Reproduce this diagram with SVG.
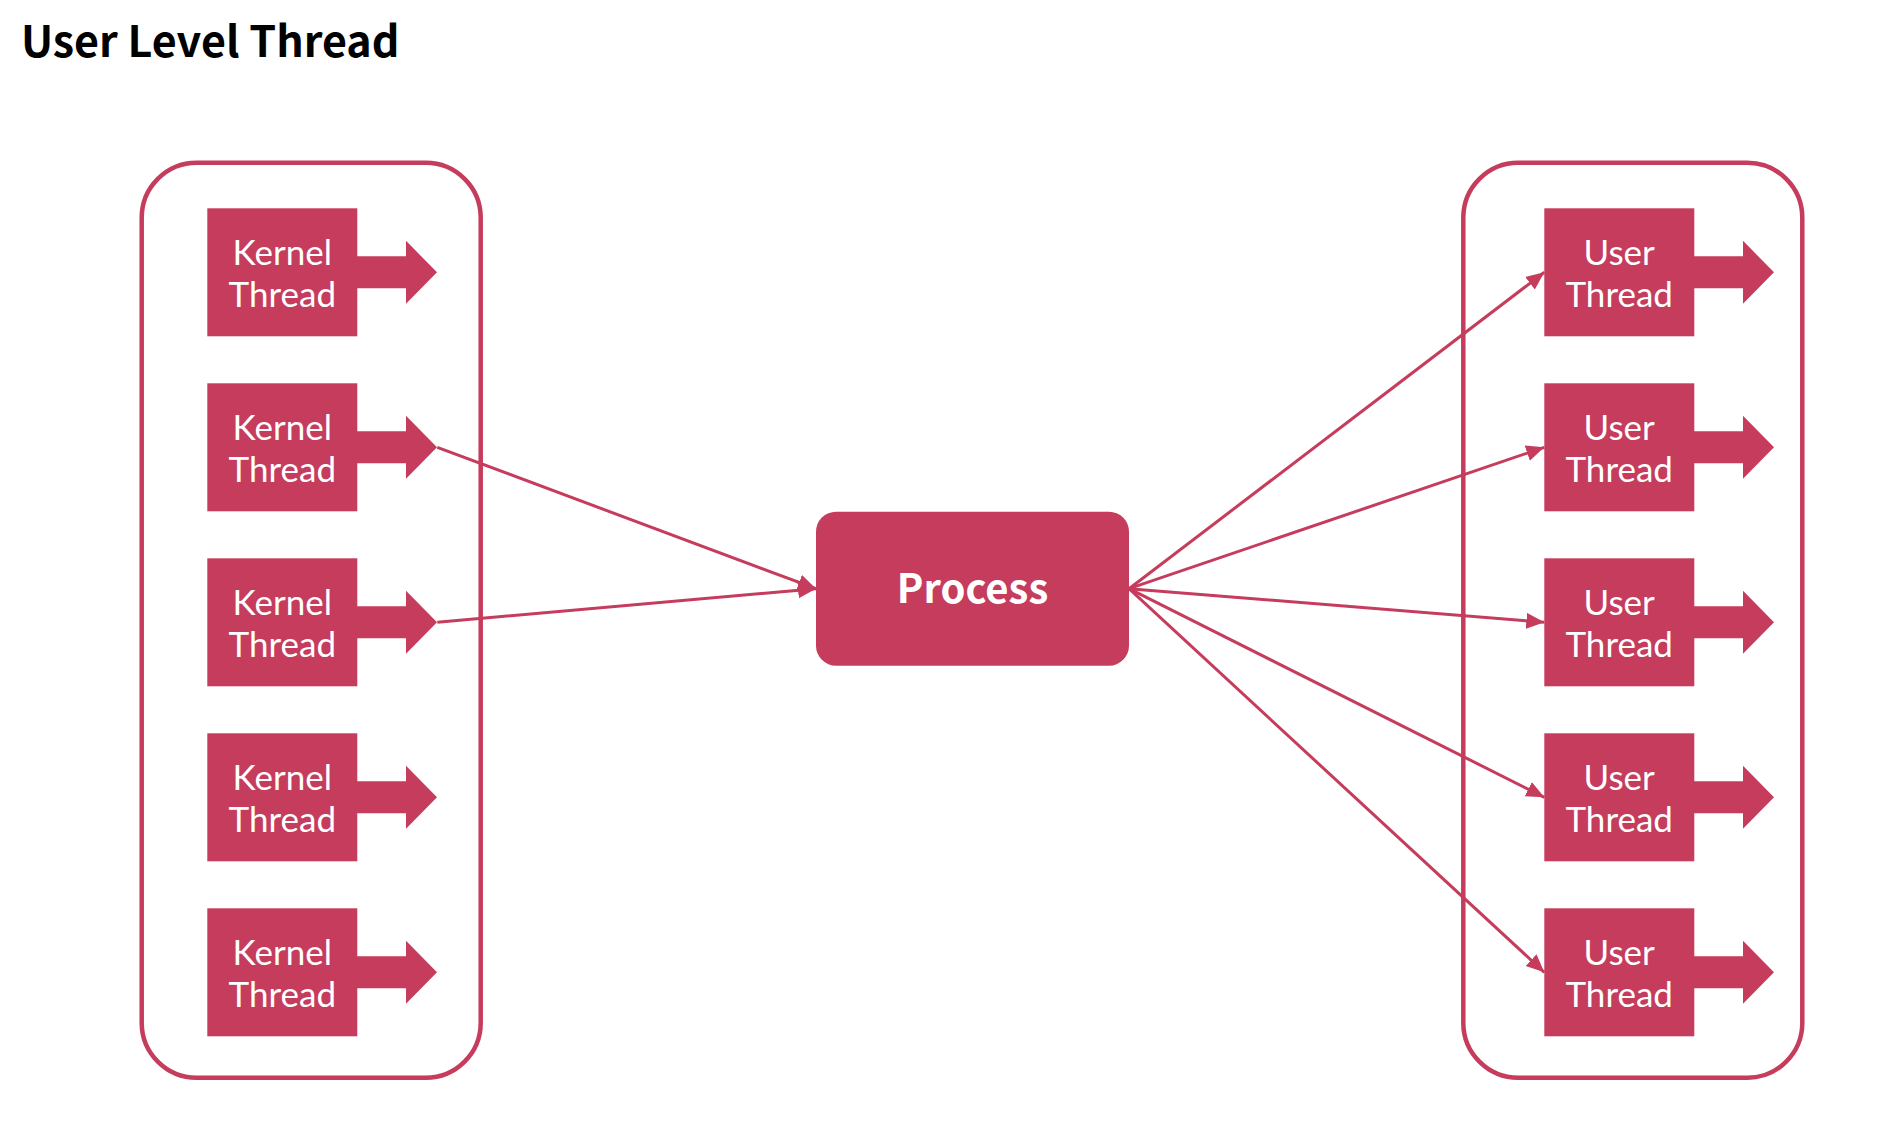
<svg xmlns="http://www.w3.org/2000/svg" width="1884" height="1144" viewBox="0 0 1884 1144">
  <style>
    .container { fill: none; stroke: #C53C5C; stroke-width: 4.5; }
    .box { fill: #C53C5C; }
    .label { fill: #FFFFFF; font-family: Lato, "Liberation Sans", sans-serif; font-size: 35px; text-anchor: middle; }
    .proc { fill: #FFFFFF; font-family: "Noto Sans CJK SC", Lato, "Liberation Sans", sans-serif; font-weight: bold; font-size: 40px; text-anchor: middle; }
    .title { fill: #000000; font-family: "Noto Sans CJK SC", Lato, "Liberation Sans", sans-serif; font-weight: bold; font-size: 43px; }
    .conn { fill: none; stroke: #C53C5C; stroke-width: 3; }
  </style>
  <defs>
    <marker id="ah" markerUnits="userSpaceOnUse" markerWidth="20" markerHeight="18" refX="18" refY="8" orient="auto">
      <path d="M0,0 L18,8 L0,16 z" fill="#C53C5C"/>
    </marker>
    <path id="bigarrowL" d="M0,-16 L49,-16 L49,-31.5 L80,0 L49,31.5 L49,16 L0,16 z" fill="#C53C5C"/>
  </defs>
  <rect width="1884" height="1144" fill="#FFFFFF"/>

  <text class="title" x="21" y="57">User Level Thread</text>

  <g id="kernel-container"><rect class="container" x="141.7" y="162.7" width="339" height="915" rx="55" ry="55"/></g>
  <g id="user-container"><rect class="container" x="1463.3" y="162.7" width="339" height="915" rx="55" ry="55"/></g>

  <g id="kernel1">
    <rect class="box" x="207.3" y="208.3" width="150" height="128"/>
    <use href="#bigarrowL" x="357" y="272.3"/>
    <text class="label" x="282.3" y="265">Kernel</text>
    <text class="label" x="282.3" y="306.5">Thread</text>
  </g>
  <g id="kernel2">
    <rect class="box" x="207.3" y="383.3" width="150" height="128"/>
    <use href="#bigarrowL" x="357" y="447.3"/>
    <text class="label" x="282.3" y="440">Kernel</text>
    <text class="label" x="282.3" y="481.5">Thread</text>
  </g>
  <g id="kernel3">
    <rect class="box" x="207.3" y="558.3" width="150" height="128"/>
    <use href="#bigarrowL" x="357" y="622.3"/>
    <text class="label" x="282.3" y="615">Kernel</text>
    <text class="label" x="282.3" y="656.5">Thread</text>
  </g>
  <g id="kernel4">
    <rect class="box" x="207.3" y="733.3" width="150" height="128"/>
    <use href="#bigarrowL" x="357" y="797.3"/>
    <text class="label" x="282.3" y="790">Kernel</text>
    <text class="label" x="282.3" y="831.5">Thread</text>
  </g>
  <g id="kernel5">
    <rect class="box" x="207.3" y="908.3" width="150" height="128"/>
    <use href="#bigarrowL" x="357" y="972.3"/>
    <text class="label" x="282.3" y="965">Kernel</text>
    <text class="label" x="282.3" y="1006.5">Thread</text>
  </g>

  <g id="process">
    <rect class="box" x="816" y="511.7" width="313" height="154" rx="20" ry="20"/>
    <text class="proc" x="972.5" y="603">Process</text>
  </g>

  <g id="user1">
    <rect class="box" x="1544.3" y="208.3" width="150" height="128"/>
    <use href="#bigarrowL" x="1694" y="272.3"/>
    <text class="label" x="1619.2" y="265">User</text>
    <text class="label" x="1619.2" y="306.5">Thread</text>
  </g>
  <g id="user2">
    <rect class="box" x="1544.3" y="383.3" width="150" height="128"/>
    <use href="#bigarrowL" x="1694" y="447.3"/>
    <text class="label" x="1619.2" y="440">User</text>
    <text class="label" x="1619.2" y="481.5">Thread</text>
  </g>
  <g id="user3">
    <rect class="box" x="1544.3" y="558.3" width="150" height="128"/>
    <use href="#bigarrowL" x="1694" y="622.3"/>
    <text class="label" x="1619.2" y="615">User</text>
    <text class="label" x="1619.2" y="656.5">Thread</text>
  </g>
  <g id="user4">
    <rect class="box" x="1544.3" y="733.3" width="150" height="128"/>
    <use href="#bigarrowL" x="1694" y="797.3"/>
    <text class="label" x="1619.2" y="790">User</text>
    <text class="label" x="1619.2" y="831.5">Thread</text>
  </g>
  <g id="user5">
    <rect class="box" x="1544.3" y="908.3" width="150" height="128"/>
    <use href="#bigarrowL" x="1694" y="972.3"/>
    <text class="label" x="1619.2" y="965">User</text>
    <text class="label" x="1619.2" y="1006.5">Thread</text>
  </g>

  <g id="connectors">
    <line class="conn" x1="437.3" y1="447.3" x2="816" y2="588.7" marker-end="url(#ah)"/>
    <line class="conn" x1="437.3" y1="622.3" x2="816" y2="588.7" marker-end="url(#ah)"/>
    <line class="conn" x1="1129" y1="588.7" x2="1544.3" y2="272.3" marker-end="url(#ah)"/>
    <line class="conn" x1="1129" y1="588.7" x2="1544.3" y2="447.3" marker-end="url(#ah)"/>
    <line class="conn" x1="1129" y1="588.7" x2="1544.3" y2="622.3" marker-end="url(#ah)"/>
    <line class="conn" x1="1129" y1="588.7" x2="1544.3" y2="797.3" marker-end="url(#ah)"/>
    <line class="conn" x1="1129" y1="588.7" x2="1544.3" y2="972.3" marker-end="url(#ah)"/>
  </g>
</svg>
